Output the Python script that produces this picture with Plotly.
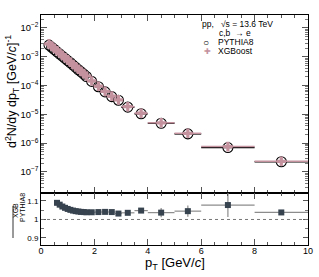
import plotly.graph_objects as go

# ---- data ----
pt = [0.3, 0.4, 0.5, 0.6, 0.7, 0.8, 0.9, 1.0, 1.1, 1.2, 1.3, 1.4, 1.5, 1.6, 1.7,
      1.9, 2.15, 2.4, 2.65, 2.9, 3.25, 3.75, 4.5, 5.5, 7.0, 9.0]
pt_halfwidth = [0.05] * 15 + [0.125] * 5 + [0.25, 0.25, 0.5, 0.5, 1.0, 1.0]
xgb = [2.8e-3, 2.35e-3, 1.95e-3, 1.62e-3, 1.35e-3, 1.12e-3, 9.3e-4, 7.8e-4, 6.5e-4,
       5.4e-4, 4.5e-4, 3.7e-4, 3.1e-4, 2.6e-4, 2.15e-4,
       1.45e-4, 9.5e-5, 6.3e-5, 4.3e-5, 3.2e-5, 1.85e-5, 1.1e-5, 5.1e-6, 2.2e-6,
       7.6e-7, 2.35e-7]
ratio_all = [1.10, 1.095, 1.09, 1.09, 1.08, 1.07, 1.063, 1.057, 1.052, 1.048, 1.045,
             1.043, 1.041, 1.04, 1.039, 1.039, 1.04, 1.041, 1.04, 1.032, 1.036, 1.048,
             1.037, 1.045, 1.078, 1.038]
pythia = [x / r for x, r in zip(xgb, ratio_all)]

# ratio panel (shown from pT = 0.6)
r_pt = pt[3:]
r_halfwidth = pt_halfwidth[3:]
r_val = ratio_all[3:]
r_err = [0.003] * 17 + [0.01, 0.012, 0.025, 0.03, 0.065]

x_ticks = [0, 2, 4, 6, 8, 10]

PINK = "#c4919f"
DARK = "#37434f"
FONT = "Liberation Sans"

fig = go.Figure()

fig.add_trace(go.Scatter(
    x=pt, y=pythia, mode="markers", xaxis="x", yaxis="y",
    marker=dict(symbol="circle-open", size=10, color="black", line=dict(width=1.1, color="black")),
    error_x=dict(type="data", array=pt_halfwidth, width=0, thickness=1.5, color="black"),
    showlegend=False))
fig.add_trace(go.Scatter(
    x=pt, y=xgb, mode="markers", xaxis="x", yaxis="y",
    marker=dict(symbol="cross", size=8, color=PINK, line=dict(width=0)),
    error_x=dict(type="data", array=pt_halfwidth, width=0, thickness=1.5, color=PINK),
    showlegend=False))

fig.add_trace(go.Scatter(
    x=r_pt, y=r_val, mode="markers", xaxis="x2", yaxis="y2",
    marker=dict(symbol="square", size=6, color=DARK),
    error_x=dict(type="data", array=r_halfwidth, width=0, thickness=1.2, color="#8c8c8c"),
    error_y=dict(type="data", array=r_err, width=0, thickness=1.2, color="#8c8c8c"),
    showlegend=False))

fig.add_shape(type="line", xref="x2", yref="y2", x0=0, x1=10, y0=1, y1=1,
              line=dict(color="#777", width=1, dash="dot"))

common_x = dict(range=[0, 10], showline=True, linecolor="black", linewidth=1, mirror="allticks",
                ticks="inside", ticklen=6, tickcolor="#555", tickvals=x_ticks,
                minor=dict(ticks="inside", ticklen=3, dtick=0.5, tick0=0, tickcolor="#555"),
                showgrid=False, zeroline=False, automargin=False)

fig.update_layout(
    width=319, height=277,
    margin=dict(l=41, r=11, t=15, b=32, autoexpand=False),
    paper_bgcolor="white", plot_bgcolor="white",
    font=dict(family=FONT, color="black"),
    xaxis=dict(**common_x, domain=[0, 1], anchor="y", showticklabels=False, matches="x2"),
    xaxis2=dict(**common_x, domain=[0, 1], anchor="y2", showticklabels=True,
                ticktext=[str(v) for v in x_ticks], ticklabelstandoff=-3,
                tickfont=dict(size=9, family=FONT)),
    yaxis=dict(type="log", range=[-7.73, -1.55], domain=[0.226, 1], anchor="x",
               showline=True, linecolor="black", mirror="allticks",
               ticks="inside", ticklen=6, tickcolor="#555", dtick=1,
               exponentformat="power", showexponent="all",
               minor=dict(ticks="inside", ticklen=3, tickcolor="#777"),
               tickfont=dict(size=7.5, family=FONT), showgrid=False, zeroline=False,
               automargin=False),
    yaxis2=dict(range=[0.862, 1.143], domain=[0, 0.226], anchor="x2",
                showline=True, linecolor="black", mirror="allticks",
                ticks="inside", ticklen=5, tickcolor="#555",
                tickvals=[0.9, 1.0, 1.1], ticktext=["0.9", "1", "1.1"],
                minor=dict(ticks="inside", ticklen=3, tickvals=[0.95, 1.05], tickcolor="#777"),
                tickfont=dict(size=8, family=FONT), showgrid=False, zeroline=False,
                automargin=False),
)

ann = []
# y title top
ann.append(dict(text="d<sup>2</sup>N/dy dp<sub>T</sub> [GeV/<i>c</i>]<sup>-1</sup>",
                xref="paper", yref="paper", x=-29 / 267, y=0.665, textangle=-90,
                showarrow=False, font=dict(size=12.5, family=FONT), xanchor="center", yanchor="middle"))
# x title
ann.append(dict(text="p<sub>T</sub> [GeV/<i>c</i>]", xref="paper", yref="paper",
                x=0.5, y=-(263 - 245) / 230, showarrow=False, font=dict(size=13, family=FONT),
                xanchor="center", yanchor="middle"))
# ratio title (fraction)
ann.append(dict(text="XGB", xref="paper", yref="paper", x=-31 / 267, y=(245 - 220) / 230,
                textangle=-90, showarrow=False, font=dict(size=7, family=FONT)))
ann.append(dict(text="PYTHIA8", xref="paper", yref="paper", x=-24 / 267, y=(245 - 224) / 230,
                textangle=-90, showarrow=False, font=dict(size=7, family=FONT)))
# legend texts
def L(text, xpx, ypx, size=8.5, color="black"):
    ann.append(dict(text=text, xref="paper", yref="paper", x=(xpx - 41) / 267,
                    y=(245 - ypx) / 230, xanchor="left", yanchor="middle", borderpad=0,
                    showarrow=False, font=dict(size=size, family=FONT, color=color)))
L("pp,&nbsp;&nbsp;&nbsp;√s = 13.6 TeV", 201, 24.5)
L("c,b &nbsp;→ e", 218, 33)
L("PYTHIA8", 217, 42.5)
L("XGBoost", 217, 51.5)
L("○", 202, 42.5, size=10)
L("✚", 202.5, 51.5, size=8, color=PINK)
fig.update_layout(annotations=ann)

fig.add_shape(type="line", xref="paper", yref="paper", x0=-28 / 267, x1=-28 / 267,
              y0=(245 - 238) / 230, y1=(245 - 206) / 230, line=dict(color="black", width=0.8))

fig.write_html("out.html", config={"displayModeBar": False},
               post_script="document.body.style.margin='0px';")
